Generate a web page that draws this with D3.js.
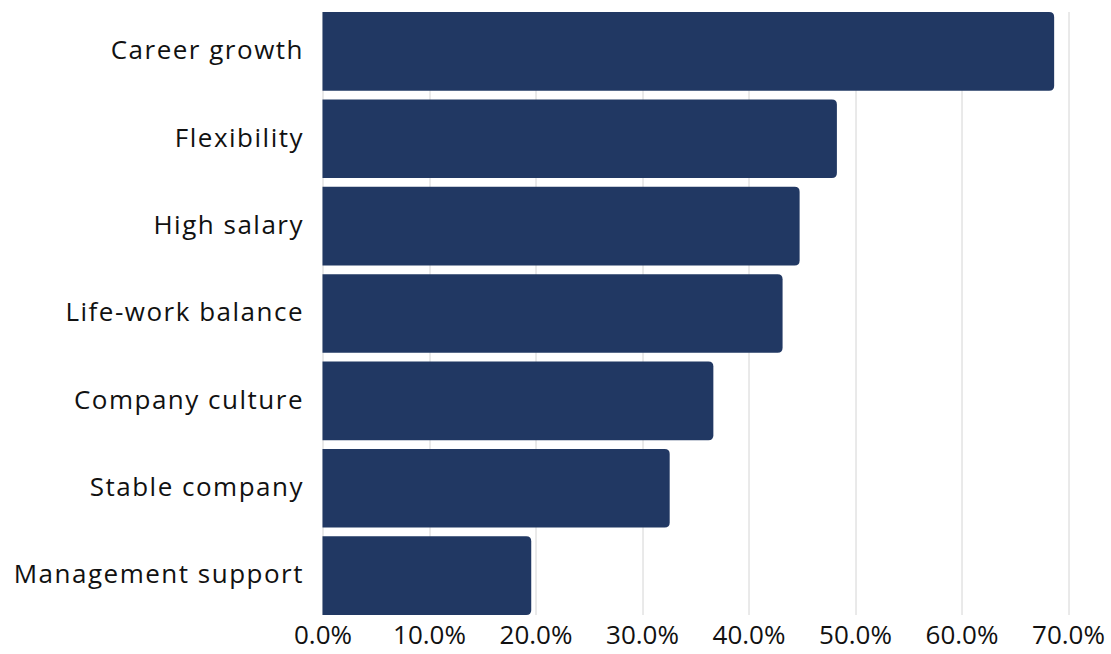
<!DOCTYPE html>
<html>
<head>
<meta charset="utf-8">
<script src="https://cdn.jsdelivr.net/npm/d3@7"></script>
<style>
  html, body { margin: 0; padding: 0; background: #ffffff; }
  svg { display: block; }
  text { font-family: "Open Sans", "DejaVu Sans", sans-serif; fill: #111111; }
</style>
</head>
<body>
<svg id="chart" width="1111" height="654"></svg>
<script>
// Reasons people give for choosing a job (share of respondents, %)
const categories = [
  "Career growth",
  "Flexibility",
  "High salary",
  "Life-work balance",
  "Company culture",
  "Stable company",
  "Management support"
];
const shares = [68.7, 48.3, 44.8, 43.2, 36.7, 32.6, 19.6];
const tickValues = [0, 10, 20, 30, 40, 50, 60, 70];

const data = categories.map((c, i) => ({ category: c, value: shares[i] }));

const svg = d3.select("#chart");
const margin = { top: 12, right: 43, bottom: 39, left: 322.5 };
const width = 1111 - margin.left - margin.right;
const height = 654 - margin.top - margin.bottom;

const g = svg.append("g").attr("transform", `translate(${margin.left},${margin.top})`);

const x = d3.scaleLinear().domain([0, 70]).range([0, width]);
const y = d3.scaleBand().domain(categories).range([0, height]).paddingInner(0.1).paddingOuter(0);

// vertical gridlines
g.append("g")
  .selectAll("line")
  .data(tickValues)
  .join("line")
  .attr("x1", d => Math.round(x(d)) + 0.5)
  .attr("x2", d => Math.round(x(d)) + 0.5)
  .attr("y1", 0)
  .attr("y2", height)
  .attr("stroke", "#d4d4d4")
  .attr("stroke-width", 1);

// bars with rounded right end
const r = 5;
g.append("g")
  .selectAll("path")
  .data(data)
  .join("path")
  .attr("fill", "#213863")
  .attr("d", d => {
    const x0 = x(0), x1 = x(d.value), y0 = y(d.category), h = y.bandwidth();
    return `M${x0},${y0}H${x1 - r}Q${x1},${y0} ${x1},${y0 + r}V${y0 + h - r}Q${x1},${y0 + h} ${x1 - r},${y0 + h}H${x0}Z`;
  });

// category axis
const yAxis = d3.axisLeft(y).tickSize(0).tickPadding(18.5);
g.append("g").call(yAxis)
  .call(s => s.select(".domain").remove())
  .selectAll("text")
  .attr("font-size", 26)
  .attr("letter-spacing", 1.5)
  .attr("dy", "0.3em")
  .style("font-family", null);

// value axis
const xAxis = d3.axisBottom(x).tickValues(tickValues).tickSize(0).tickPadding(11)
  .tickFormat(d => d.toFixed(1) + "%");
g.append("g").attr("transform", `translate(0,${height})`).call(xAxis)
  .call(s => s.select(".domain").remove())
  .selectAll("text")
  .attr("font-size", 26)
  .style("font-family", null);

svg.selectAll(".tick text").attr("fill", "#111111");
</script>
</body>
</html>
